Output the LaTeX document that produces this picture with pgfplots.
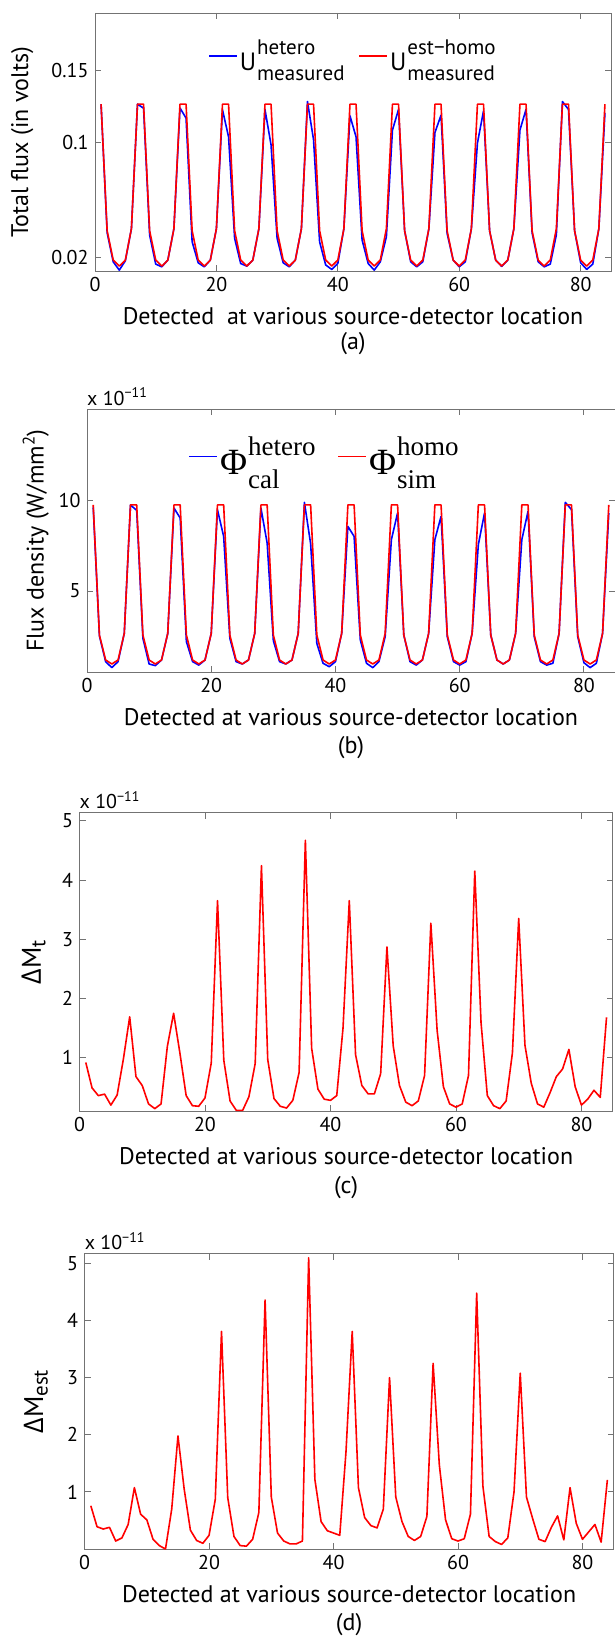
\documentclass[border=0pt]{standalone}
\usepackage{fontspec}
\setmainfont{PT Sans}
\newfontfamily\grk{Open Sans}
\newfontfamily\phifont{Liberation Serif}
\usepackage{pgfplots}
\usepackage{pgfplotstable}
\pgfplotsset{compat=1.18}

\definecolor{axgray}{gray}{0.45}
\definecolor{lblue}{rgb}{0,0,1}
\definecolor{lred}{rgb}{1,0,0}

% base with a superscript and a subscript stacked on its right
\newcommand\supsub[5]{#1\kern1pt\ooalign{\raisebox{#4}{#2}\cr\raisebox{-#5}{#3}\cr}}
\newcommand\labelfont{\fontsize{24}{28}\selectfont}

% x, total flux (est-homo, hetero), flux density (homo, hetero)
\pgfplotstableread{
x  ared   ablue  bred bblue
1  0.1267 0.1267 9.73 9.60
2  0.0388 0.0374 2.58 2.53
3  0.0184 0.0172 1.21 1.12
4  0.0142 0.0114 0.99 0.79
5  0.0184 0.0179 1.21 1.12
6  0.0402 0.0402 2.67 2.67
7  0.1267 0.1267 9.73 9.73
8  0.1267 0.1239 9.73 9.43
9  0.0388 0.0358 2.58 2.40
10 0.0184 0.0156 1.21 0.99
11 0.0142 0.0137 0.99 0.90
12 0.0184 0.0184 1.21 1.21
13 0.0402 0.0402 2.67 2.67
14 0.1267 0.1240 9.73 9.56
15 0.1267 0.1170 9.73 9.01
16 0.0388 0.0311 2.58 2.22
17 0.0184 0.0165 1.21 1.12
18 0.0142 0.0137 0.99 0.93
19 0.0184 0.0184 1.21 1.21
20 0.0402 0.0402 2.67 2.67
21 0.1267 0.1228 9.73 9.47
22 0.1267 0.1040 9.73 8.00
23 0.0388 0.0335 2.58 2.40
24 0.0184 0.0160 1.21 1.12
25 0.0142 0.0142 0.99 0.99
26 0.0184 0.0184 1.21 1.21
27 0.0402 0.0402 2.67 2.67
28 0.1267 0.1230 9.73 9.56
29 0.1267 0.0984 9.73 7.64
30 0.0388 0.0335 2.58 2.27
31 0.0184 0.0165 1.21 1.12
32 0.0142 0.0137 0.99 0.99
33 0.0184 0.0184 1.21 1.21
34 0.0402 0.0402 2.67 2.67
35 0.1267 0.1285 9.73 9.87
36 0.1267 0.1020 9.73 7.60
37 0.0388 0.0310 2.58 2.12
38 0.0184 0.0150 1.21 1.03
39 0.0142 0.0119 0.99 0.84
40 0.0184 0.0160 1.21 1.12
41 0.0402 0.0402 2.67 2.67
42 0.1267 0.1186 9.73 8.55
43 0.1267 0.1040 9.73 8.00
44 0.0388 0.0323 2.58 2.31
45 0.0184 0.0160 1.21 1.03
46 0.0142 0.0114 0.99 0.79
47 0.0184 0.0172 1.21 1.12
48 0.0402 0.0346 2.67 2.49
49 0.1267 0.1087 9.73 7.82
50 0.1267 0.1230 9.73 9.29
51 0.0388 0.0388 2.58 2.58
52 0.0184 0.0172 1.21 1.12
53 0.0142 0.0137 0.99 0.93
54 0.0184 0.0172 1.21 1.21
55 0.0402 0.0402 2.67 2.67
56 0.1267 0.1070 9.73 7.82
57 0.1267 0.1190 9.73 9.10
58 0.0388 0.0370 2.58 2.49
59 0.0184 0.0184 1.21 1.12
60 0.0142 0.0137 0.99 0.93
61 0.0184 0.0172 1.21 1.12
62 0.0402 0.0402 2.67 2.67
63 0.1267 0.0997 9.73 7.55
64 0.1267 0.1220 9.73 9.29
65 0.0388 0.0388 2.58 2.58
66 0.0184 0.0184 1.21 1.21
67 0.0142 0.0140 0.99 0.99
68 0.0184 0.0184 1.21 1.21
69 0.0402 0.0402 2.67 2.67
70 0.1267 0.1087 9.73 7.82
71 0.1267 0.1230 9.73 9.38
72 0.0388 0.0374 2.58 2.49
73 0.0184 0.0172 1.21 1.12
74 0.0142 0.0137 0.99 0.93
75 0.0184 0.0156 1.21 1.03
76 0.0402 0.0360 2.67 2.67
77 0.1267 0.1285 9.73 9.87
78 0.1267 0.1230 9.73 9.47
79 0.0388 0.0388 2.58 2.49
80 0.0184 0.0165 1.21 1.06
81 0.0142 0.0119 0.99 0.79
82 0.0184 0.0156 1.21 1.03
83 0.0402 0.0402 2.67 2.67
84 0.1267 0.1206 9.73 9.29
}\fluxdata

% x, Delta M_t, Delta M_est
\pgfplotstableread{
x  dmt   dmest
1  0.92  0.757
2  0.49  0.39
3  0.36  0.35
4  0.385 0.38
5  0.20  0.14
6  0.37  0.195
7  0.98  0.43
8  1.69  1.075
9  0.68  0.61
10 0.53  0.51
11 0.22  0.17
12 0.14  0.06
13 0.22  0.00
14 1.19  0.70
15 1.75  1.98
16 1.08  1.05
17 0.36  0.33
18 0.19  0.15
19 0.18  0.10
20 0.32  0.24
21 0.91  0.87
22 3.65  3.81
23 0.955 0.90
24 0.27  0.22
25 0.11  0.06
26 0.11  0.05
27 0.34  0.17
28 0.90  0.64
29 4.24  4.36
30 0.97  0.91
31 0.31  0.28
32 0.18  0.14
33 0.15  0.09
34 0.28  0.09
35 0.75  0.14
36 4.67  5.10
37 1.16  1.22
38 0.47  0.48
39 0.30  0.32
40 0.28  0.28
41 0.36  0.24
42 1.50  1.70
43 3.65  3.81
44 1.05  1.075
45 0.53  0.55
46 0.39  0.41
47 0.39  0.37
48 0.73  0.70
49 2.87  3.00
50 1.20  0.91
51 0.53  0.48
52 0.25  0.22
53 0.19  0.15
54 0.27  0.22
55 0.70  0.57
56 3.27  3.25
57 1.46  1.47
58 0.51  0.51
59 0.22  0.18
60 0.165 0.14
61 0.22  0.18
62 0.70  0.61
63 4.15  4.48
64 1.59  1.10
65 0.36  0.22
66 0.19  0.13
67 0.14  0.08
68 0.27  0.195
69 1.08  1.00
70 3.35  3.08
71 1.21  0.91
72 0.57  0.53
73 0.22  0.17
74 0.165 0.13
75 0.41  0.38
76 0.68  0.58
77 0.81  0.16
78 1.14  1.075
79 0.51  0.45
80 0.20  0.17
81 0.30  0.30
82 0.45  0.43
83 0.33  0.12
84 1.68  1.21
}\diffdata

\pgfplotsset{
  panel/.style={
    scale only axis,
    anchor=north west,
    clip mode=individual,
    xmin=0, xmax=85,
    xtick={0,20,40,60,80},
    scaled x ticks=false, scaled y ticks=false,
    tick align=inside, tick pos=both,
    major tick length=6pt,
    axis line style={axgray, line width=0.9pt},
    every tick/.style={axgray, line width=0.9pt},
    /pgf/number format/assume math mode=true,
    tick label style={font=\fontsize{20}{24}\selectfont, text=black},
    xticklabel style={yshift=-3pt},
    yticklabel style={xshift=-3pt},
    every axis x label/.style={at={(axis description cs:0.5,0)}, anchor=center, yshift=-45pt, font=\labelfont},
    every axis plot/.append style={line width=1.6pt, line join=round},
    legend image code/.code={\draw[##1, line width=1.6pt] (0pt,0pt) -- (28pt,0pt);},
  },
  ylab/.style={every axis y label/.style={at={(axis description cs:#1,0.5)}, rotate=90, anchor=center, font=\labelfont}},
}
\tikzset{panel tag/.style={font=\labelfont, anchor=center}}

\begin{document}
\begin{tikzpicture}
\useasboundingbox (0,0) rectangle (614pt,-1640pt);

% (a) total flux
\begin{axis}[panel,
  at={(95pt,-13pt)}, width=516pt, height=258pt,
  ymin=0.0108, ymax=0.19,
  ytick={0.02,0.1,0.15}, yticklabels={0.02,0.1,0.15},
  xlabel={Detected~ at various source-detector location},
  ylabel={Total flux (in volts)}, ylab=-0.141,
  legend columns=2,
  legend style={draw=none, fill=none, at={(axis description cs:0.5,0.833)}, anchor=center,
    font=\fontsize{25}{28}\selectfont, inner sep=0pt,
    /tikz/every even column/.append style={column sep=12pt}},
]
\addplot[lblue] table[x=x, y=ablue] {\fluxdata};
\addlegendentry{\supsub{U}{\fontsize{21}{21}\selectfont hetero}{\fontsize{21}{21}\selectfont measured}{16pt}{10pt}}
\addplot[lred] table[x=x, y=ared] {\fluxdata};
\addlegendentry{\supsub{U}{\fontsize{21}{21}\selectfont est−homo}{\fontsize{21}{21}\selectfont measured}{16pt}{10pt}}
\node[panel tag] at (axis description cs:0.5,0) [yshift=-73pt] {(a)};
\end{axis}

% (b) flux density
\begin{axis}[panel,
  at={(87pt,-409pt)}, width=528pt, height=263pt,
  ymin=0.55, ymax=15,
  ytick={5,10}, yticklabels={5,10},
  xlabel={Detected at various source-detector location},
  ylabel={Flux density (W/mm\textsuperscript{2})}, ylab=-0.097,
  legend columns=2,
  legend style={draw=none, fill=none, at={(axis description cs:0.45,0.82)}, anchor=center,
    font=\fontsize{24}{28}\selectfont, inner sep=0pt,
    /tikz/every even column/.append style={column sep=20pt}},
]
\addplot[lblue] table[x=x, y=bblue] {\fluxdata};
\addlegendentry{\supsub{\fontsize{37}{37}\selectfont\phifont Φ}{\fontsize{27}{27}\selectfont hetero}{\fontsize{27}{27}\selectfont cal}{19pt}{14pt}}
\addplot[lred] table[x=x, y=bred] {\fluxdata};
\addlegendentry{\supsub{\fontsize{37}{37}\selectfont\phifont Φ}{\fontsize{27}{27}\selectfont homo}{\fontsize{27}{27}\selectfont sim}{19pt}{14pt}}
\node[anchor=base west, inner sep=0pt, font=\fontsize{20}{24}\selectfont] at (axis description cs:0,1) [yshift=4pt] {x 10\textsuperscript{−11}};
\node[panel tag] at (axis description cs:0.5,0) [yshift=-76pt] {(b)};
\end{axis}

% (c) Delta M_t
\begin{axis}[panel,
  at={(79.5pt,-812.7pt)}, width=533.3pt, height=298.3pt,
  ymin=0.1, ymax=5.135,
  ytick={1,2,3,4,5}, yticklabels={1,2,3,4,5},
  xlabel={Detected at various source-detector location},
  ylabel={{\fontsize{27}{30}\selectfont{\grk Δ}M}\textsubscript{\fontsize{21}{24}\selectfont t}}, ylab=-0.086,
]
\addplot[lred] table[x=x, y=dmt] {\diffdata};
\node[anchor=base west, inner sep=0pt, font=\fontsize{20}{24}\selectfont] at (axis description cs:0,1) [yshift=4pt] {x 10\textsuperscript{−11}};
\node[panel tag] at (axis description cs:0.5,0) [yshift=-77pt] {(c)};
\end{axis}

% (d) Delta M_est
\begin{axis}[panel,
  at={(84.6pt,-1253.7pt)}, width=529pt, height=295.3pt,
  ymin=0, ymax=5.17,
  ytick={1,2,3,4,5}, yticklabels={1,2,3,4,5},
  xlabel={Detected at various source-detector location},
  ylabel={{\fontsize{27}{30}\selectfont{\grk Δ}M}\textsubscript{\fontsize{21}{24}\selectfont est}}, ylab=-0.092,
]
\addplot[lred] table[x=x, y=dmest] {\diffdata};
\node[anchor=base west, inner sep=0pt, font=\fontsize{20}{24}\selectfont] at (axis description cs:0,1) [yshift=4pt] {x 10\textsuperscript{−11}};
\node[panel tag] at (axis description cs:0.5,0) [yshift=-76pt] {(d)};
\end{axis}
\end{tikzpicture}
\end{document}
